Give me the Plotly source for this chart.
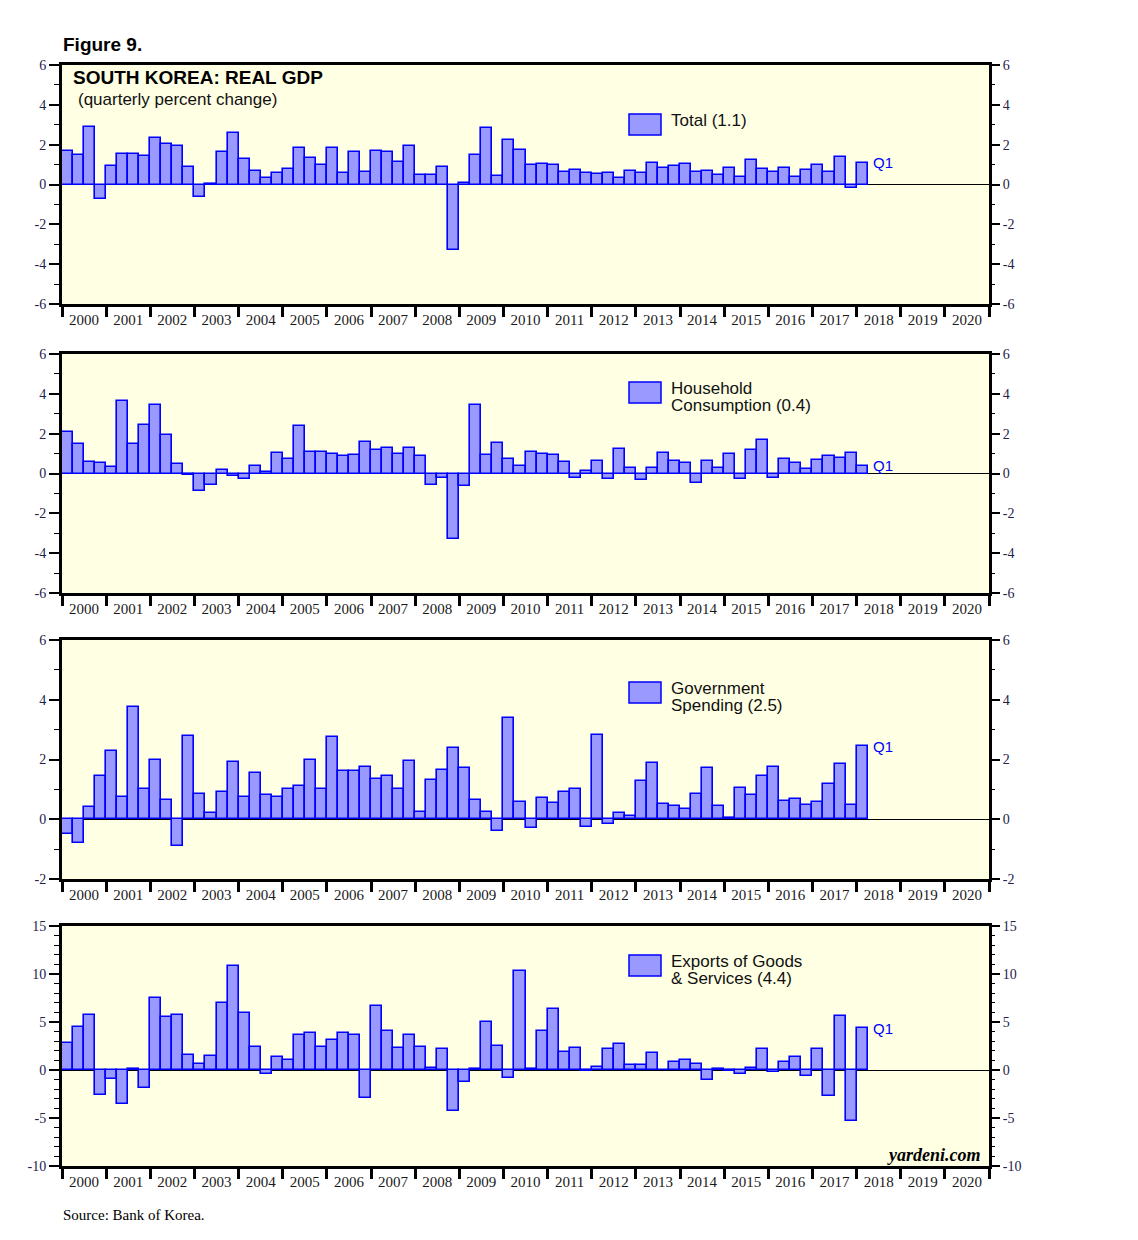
import plotly.graph_objects as go

# ---------------- data (quarterly % change, 1999Q4 .. 2018Q1) ----------------
first_year, first_q = 1999, 4
total = [3.0, 1.7, 1.5, 2.9, -0.75, 0.95, 1.55, 1.55, 1.45, 2.35, 2.05, 1.95, 0.9,
         -0.65, 0.05, 1.65, 2.6, 1.3, 0.7, 0.35, 0.6, 0.8, 1.85, 1.35, 1.0,
         1.85, 0.6, 1.65, 0.65, 1.7, 1.65, 1.15, 1.95, 0.5, 0.5, 0.9, -3.3,
         0.1, 1.5, 2.85, 0.45, 2.25, 1.75, 1.0, 1.05, 1.0, 0.65, 0.75, 0.6,
         0.55, 0.6, 0.35, 0.7, 0.6, 1.1, 0.85, 0.95, 1.05, 0.65, 0.7, 0.5,
         0.85, 0.4, 1.25, 0.8, 0.65, 0.85, 0.4, 0.75, 1.0, 0.65, 1.4, -0.2, 1.1]
household = [3.4, 2.1, 1.5, 0.6, 0.55, 0.35, 3.65, 1.5, 2.45, 3.45, 1.95, 0.5, -0.1,
             -0.9, -0.6, 0.2, -0.15, -0.3, 0.4, 0.1, 1.05, 0.75, 2.4, 1.1, 1.1,
             1.0, 0.9, 0.95, 1.6, 1.2, 1.3, 1.0, 1.3, 0.9, -0.6, -0.25, -3.3,
             -0.65, 3.45, 0.95, 1.55, 0.75, 0.4, 1.1, 1.0, 0.95, 0.6, -0.25, 0.15,
             0.65, -0.3, 1.25, 0.3, -0.35, 0.3, 1.05, 0.65, 0.55, -0.5, 0.65, 0.3,
             1.0, -0.3, 1.2, 1.7, -0.25, 0.75, 0.55, 0.25, 0.7, 0.9, 0.8, 1.05, 0.4]
government = [0.45, -0.5, -0.78, 0.42, 1.45, 2.3, 0.75, 3.75, 1.0, 2.0, 0.65, -0.88, 2.8,
              0.85, 0.22, 0.92, 1.92, 0.75, 1.55, 0.8, 0.75, 1.02, 1.1, 2.0, 1.0,
              2.75, 1.6, 1.6, 1.75, 1.35, 1.45, 1.02, 1.95, 0.25, 1.32, 1.65, 2.38,
              1.72, 0.65, 0.25, -0.38, 3.38, 0.58, -0.3, 0.72, 0.55, 0.92, 1.0, -0.25,
              2.82, -0.15, 0.22, 0.12, 1.29, 1.89, 0.52, 0.45, 0.35, 0.85, 1.72, 0.45,
              0.03, 1.05, 0.82, 1.45, 1.75, 0.62, 0.69, 0.49, 0.58, 1.19, 1.85, 0.49, 2.45]
exports = [6.8, 2.8, 4.46, 5.7, -2.6, -0.93, -3.53, 0.1, -1.87, 7.47, 5.5, 5.7, 1.56,
           0.62, 1.45, 6.95, 10.8, 5.9, 2.39, -0.42, 1.35, 1.04, 3.63, 3.84, 2.39,
           3.11, 3.84, 3.63, -2.9, 6.64, 4.05, 2.28, 3.63, 2.39, 0.2, 2.18, -4.26,
           -1.25, 0.1, 4.98, 2.49, -0.83, 10.28, 0.1, 4.05, 6.33, 1.87, 2.28, -0.1,
           0.31, 2.18, 2.7, 0.52, 0.52, 1.76, 0.0, 0.83, 1.04, 0.62, -1.04, 0.1,
           -0.1, -0.42, 0.2, 2.18, -0.2, 0.83, 1.35, -0.62, 2.18, -2.7, 5.6, -5.3, 4.36]

series = [total, household, government, exports]
legend_lines = [["Total (1.1)"],
                ["Household", "Consumption (0.4)"],
                ["Government", "Spending (2.5)"],
                ["Exports of Goods", "& Services (4.4)"]]
y_ranges = [[-6, 6], [-6, 6], [-2, 6], [-10, 15]]
y_major = [[-6, -4, -2, 0, 2, 4, 6], [-6, -4, -2, 0, 2, 4, 6],
           [-2, 0, 2, 4, 6], [-10, -5, 0, 5, 10, 15]]
years = list(range(2000, 2021))
year_labels = [str(y) for y in years]

# quarter positions (mid-quarter, in fractional years)
xq = []
for i in range(len(total)):
    k = (first_q - 1) + i
    xq.append(first_year + k // 4 + ((k % 4) + 0.5) / 4)

# ---------------- layout geometry (pixels) ----------------
W, H = 1138, 1240
X0, X1 = 62, 989
panels_px = [(65, 304), (354, 593), (640, 879), (926, 1166)]

def px(x):
    return x / W

def py(y):
    return 1 - y / H

SANS = "Liberation Sans, Arial, sans-serif"
SERIF = "Liberation Serif, Times New Roman, serif"
BAR_FILL = "#9999FF"
BAR_LINE = "#0000FF"

fig = go.Figure()
layout = dict(
    width=W, height=H, margin=dict(l=0, r=0, t=0, b=0, pad=0, autoexpand=False),
    paper_bgcolor="white", plot_bgcolor="#FFFFE3",
    bargap=0, showlegend=False,
    annotations=[], shapes=[],
)

for i, vals in enumerate(series):
    n = i + 1
    xa = "x" if n == 1 else f"x{n}"
    ya = "y" if n == 1 else f"y{n}"
    ya_r = f"y{n + 4}"
    fig.add_trace(go.Bar(x=xq, y=vals, width=0.25, xaxis=xa, yaxis=ya,
                         marker=dict(color=BAR_FILL, line=dict(color=BAR_LINE, width=1.6)),
                         hoverinfo="x+y"))
    # invisible trace so the mirrored right axis is rendered
    fig.add_trace(go.Scatter(x=xq, y=vals, xaxis=xa, yaxis=ya_r, mode="markers",
                             marker=dict(opacity=0), hoverinfo="skip"))
    top, bot = panels_px[i]
    ydom = [py(bot), py(top)]
    xkey = "xaxis" if n == 1 else f"xaxis{n}"
    ykey = "yaxis" if n == 1 else f"yaxis{n}"
    layout[xkey] = dict(
        domain=[px(X0), px(X1)], anchor=ya, range=[2000, 2021],
        tickmode="array", tickvals=[y + 0.5 for y in years], ticktext=year_labels,
        ticks="", ticklen=0,
        minor=dict(tickmode="array", tickvals=list(range(2000, 2022)), ticks="outside",
                   ticklen=10, tickwidth=2.5, tickcolor="black", showgrid=False),
        showgrid=False, zeroline=False, automargin=False,
        showline=True, linewidth=3, linecolor="black", mirror=True,
        tickfont=dict(family=SERIF, size=15, color="#1a1a1a"),
        fixedrange=True,
    )
    ycommon = dict(
        domain=ydom, range=y_ranges[i], tickmode="array", tickvals=y_major[i],
        ticktext=[str(v) for v in y_major[i]],
        ticks="outside", ticklen=10, tickwidth=1.5, tickcolor="black",
        minor=dict(dtick=1, ticks="outside", ticklen=5, tickwidth=1.2, tickcolor="black",
                   showgrid=False),
        showgrid=False, automargin=False,
        tickfont=dict(family=SERIF, size=14, color="#22224a"),
        fixedrange=True,
    )
    layout[ykey] = dict(ycommon, anchor=xa, side="left",
                        zeroline=True, zerolinecolor="black", zerolinewidth=1.2,
                        showline=True, linewidth=3, linecolor="black", mirror=True)
    layout[f"yaxis{n + 4}"] = dict(ycommon, anchor=xa, side="right", overlaying=ya,
                                   zeroline=False, showline=False)

    # legend swatch + text
    sw_top = top + (49 if n == 1 else 28 if n == 2 else 42 if n == 3 else 29)
    layout["shapes"].append(dict(type="rect", xref="paper", yref="paper",
                                 x0=px(629), x1=px(661), y0=py(sw_top + 21), y1=py(sw_top),
                                 fillcolor=BAR_FILL, line=dict(color=BAR_LINE, width=1.5)))
    for j, line in enumerate(legend_lines[i]):
        layout["annotations"].append(dict(
            xref="paper", yref="paper", x=px(669), y=py(sw_top + 6 + 17 * j),
            text=line, showarrow=False, xanchor="left", yanchor="middle",
            font=dict(family=SANS, size=17, color="#111111")))
    # Q1 label at the latest bar
    layout["annotations"].append(dict(
        xref=xa, yref=ya, x=xq[-1] + 0.125, y=vals[-1], text="Q1", showarrow=False,
        xanchor="left", yanchor="middle", xshift=3,
        font=dict(family=SANS, size=15, color="#0000FF")))

# titles and footnotes
layout["annotations"] += [
    dict(xref="paper", yref="paper", x=px(61), y=py(45), text="<b>Figure 9.</b>",
         showarrow=False, xanchor="left", yanchor="middle",
         font=dict(family=SANS, size=19, color="black")),
    dict(xref="paper", yref="paper", x=px(71), y=py(78), text="<b>SOUTH KOREA: REAL GDP</b>",
         showarrow=False, xanchor="left", yanchor="middle",
         font=dict(family=SANS, size=19, color="black")),
    dict(xref="paper", yref="paper", x=px(76), y=py(99), text="(quarterly percent change)",
         showarrow=False, xanchor="left", yanchor="middle",
         font=dict(family=SANS, size=17, color="#111111")),
    dict(xref="paper", yref="paper", x=px(983), y=py(1155), text="<b><i>yardeni.com</i></b>",
         showarrow=False, xanchor="right", yanchor="middle",
         font=dict(family=SERIF, size=18, color="black")),
    dict(xref="paper", yref="paper", x=px(61), y=py(1215), text="Source: Bank of Korea.",
         showarrow=False, xanchor="left", yanchor="middle",
         font=dict(family=SERIF, size=15, color="black")),
]

fig.update_layout(**layout)
fig.write_html("out.html", config={"displayModeBar": False},
               post_script="document.body.style.margin='0';document.body.style.padding='0';")
